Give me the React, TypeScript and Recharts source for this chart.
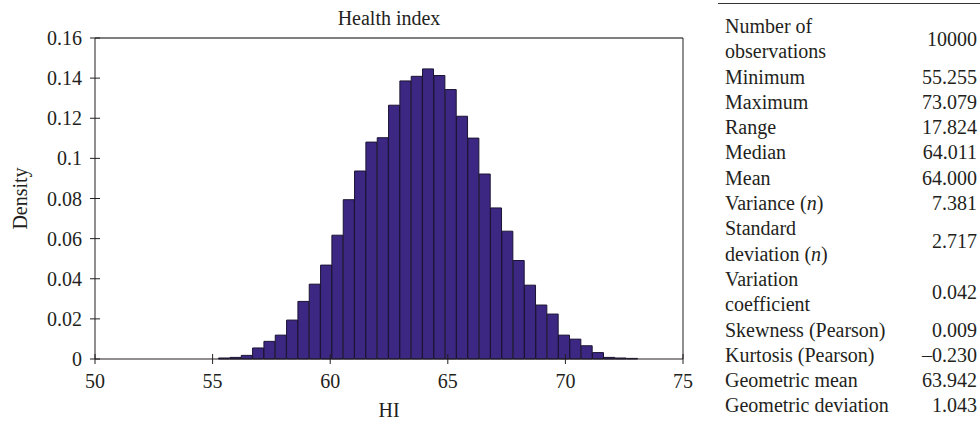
import { Bar, BarChart, ReferenceLine, XAxis, YAxis } from 'recharts';

// histogram bins: 37 bins between min 55.255 and max 73.079
const binEdges = [
  55.255, 55.737, 56.218, 56.7, 57.182, 57.664, 58.145, 58.627, 59.109, 59.591,
  60.072, 60.554, 61.036, 61.517, 61.999, 62.481, 62.963, 63.444, 63.926, 64.408,
  64.89, 65.371, 65.853, 66.335, 66.817, 67.298, 67.78, 68.262, 68.743, 69.225,
  69.707, 70.189, 70.67, 71.152, 71.634, 72.116, 72.597, 73.079,
];

const density = [
  0.0005, 0.0008, 0.0018, 0.0055, 0.0088, 0.0119, 0.0194, 0.0287, 0.0373, 0.0468,
  0.0617, 0.0794, 0.0937, 0.1081, 0.1103, 0.1265, 0.1386, 0.1409, 0.1446, 0.1413,
  0.1343, 0.121, 0.1101, 0.0922, 0.0753, 0.0637, 0.0491, 0.0368, 0.0269, 0.0224,
  0.0119, 0.0099, 0.0066, 0.0032, 0.0008, 0.0005, 0.0003,
];

const xTicks = [50, 55, 60, 65, 70, 75];
const yTicks = [0, 0.02, 0.04, 0.06, 0.08, 0.1, 0.12, 0.14, 0.16];

const statLabels: React.ReactNode[] = [
  <>Number of<br />observations</>,
  'Minimum',
  'Maximum',
  'Range',
  'Median',
  'Mean',
  <>Variance (<i>n</i>)</>,
  <>Standard<br />deviation (<i>n</i>)</>,
  <>Variation<br />coefficient</>,
  'Skewness (Pearson)',
  'Kurtosis (Pearson)',
  'Geometric mean',
  'Geometric deviation',
];
const statValues = [
  '10000', '55.255', '73.079', '17.824', '64.011', '64.000', '7.381',
  '2.717', '0.042', '0.009', '\u20130.230', '63.942', '1.043',
];

const bins = density.map((d, i) => ({
  mid: (binEdges[i] + binEdges[i + 1]) / 2,
  density: d,
}));

const font = 'Liberation Serif, Times New Roman, serif';
const ink = '#231f20';
const TICK = 5;
const Y_MARGIN = 8;
const X_MARGIN = 10;

// ticks cross the axis line like in the source figure
function YTick(props: any) {
  const { x, y, payload } = props;
  const ax = x + TICK + Y_MARGIN;
  return (
    <g>
      <line x1={ax - 5} x2={ax + 5} y1={y} y2={y} stroke={ink} />
      <text x={x} y={y} dy="0.355em" textAnchor="end" fontFamily={font} fontSize={20} fill={ink}>
        {payload.value}
      </text>
    </g>
  );
}

function XTick(props: any) {
  const { x, y, payload } = props;
  const ay = y - TICK - X_MARGIN;
  return (
    <g>
      <line x1={x} x2={x} y1={ay - 5} y2={ay + 5} stroke={ink} />
      <text x={x} y={y} dy="0.71em" textAnchor="middle" fontFamily={font} fontSize={20} fill={ink}>
        {payload.value}
      </text>
    </g>
  );
}

export default function App() {
  return (
    <div style={{ position: 'absolute', left: 0, top: 0, width: 980, height: 432, background: '#fff', fontFamily: font, color: ink }}>
      <div style={{ position: 'absolute', left: 289, width: 200, top: 6, textAlign: 'center', fontSize: 20, lineHeight: '24px' }}>
        Health index
      </div>
      <BarChart
        width={700}
        height={432}
        data={bins}
        margin={{ top: 38, right: 17, left: 0, bottom: 0 }}
        barCategoryGap={0}
        barGap={0}
      >
        <XAxis
          type="number"
          dataKey="mid"
          domain={[50, 75]}
          ticks={xTicks}
          height={73}
          tickSize={TICK}
          tickMargin={X_MARGIN}
          tickLine={false}
          stroke={ink}
          tick={<XTick />}
          label={{ value: 'HI', position: 'insideBottom', offset: 15, style: { fontFamily: font, fontSize: 20, fill: ink } }}
        />
        <YAxis
          type="number"
          domain={[0, 0.16]}
          ticks={yTicks}
          width={95}
          tickSize={TICK}
          tickMargin={Y_MARGIN}
          tickLine={false}
          stroke={ink}
          tick={<YTick />}
          label={{ value: 'Density', angle: -90, position: 'insideLeft', offset: 20, style: { fontFamily: font, fontSize: 20, fill: ink, textAnchor: 'middle' } }}
        />
        <ReferenceLine y={0.16} stroke="#555" strokeWidth={1.5} />
        <ReferenceLine x={75} stroke={ink} strokeWidth={1} />
        <Bar dataKey="density" fill="#3c2783" stroke="#1b1433" strokeWidth={1} isAnimationActive={false} />
      </BarChart>
      <div style={{ position: 'absolute', left: 718, top: 3, width: 262, height: 0, borderTop: '1.5px solid #333' }} />
      <div
        style={{
          position: 'absolute',
          left: 725,
          top: 14,
          width: 252,
          display: 'grid',
          gridTemplateColumns: '1fr auto',
          fontSize: 20,
          lineHeight: '25.3px',
        }}
      >
        {statLabels.map((lab, i) => (
          <div key={i} style={{ display: 'contents' }}>
            <div style={{ whiteSpace: 'nowrap' }}>{lab}</div>
            <div style={{ alignSelf: 'center', textAlign: 'right' }}>{statValues[i]}</div>
          </div>
        ))}
      </div>
    </div>
  );
}
